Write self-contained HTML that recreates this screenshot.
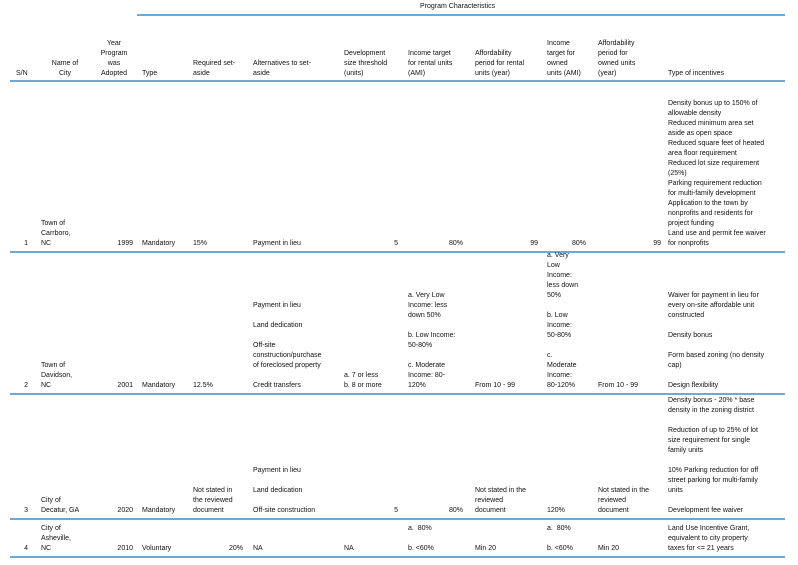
<!DOCTYPE html>
<html><head><meta charset="utf-8"><style>
body{margin:0;width:798px;height:565px;background:#fff;position:relative;overflow:hidden;font-family:"Liberation Sans",sans-serif;color:#111}
.c{position:absolute;font-size:7px;line-height:10px;white-space:nowrap}
.r{text-align:right}
.l{position:absolute;height:2px;background:#6fa8d8}
</style></head><body>
<div class="l" style="left:137px;top:14px;width:648px"></div>
<div class="c" style="left:420px;top:2px">Program Characteristics</div>

<div class="l" style="left:10px;top:80px;width:775px"></div>
<div class="l" style="left:10px;top:251px;width:775px"></div>
<div class="l" style="left:10px;top:393px;width:775px"></div>
<div class="l" style="left:10px;top:518px;width:775px"></div>
<div class="l" style="left:10px;top:556px;width:775px"></div>

<div class="c" style="left:16px;bottom:486px">S/N</div>
<div class="c" style="left:45px;width:40px;text-align:center;bottom:486px">Name of<br>City</div>
<div class="c" style="left:94px;width:40px;text-align:center;bottom:486px">Year<br>Program<br>was<br>Adopted</div>
<div class="c" style="left:142px;bottom:486px">Type</div>
<div class="c" style="left:193px;bottom:486px">Required set-<br>aside</div>
<div class="c" style="left:253px;bottom:486px">Alternatives to set-<br>aside</div>
<div class="c" style="left:344px;bottom:486px">Development<br>size threshold<br>(units)</div>
<div class="c" style="left:408px;bottom:486px">Income target<br>for rental units<br>(AMI)</div>
<div class="c" style="left:475px;bottom:486px">Affordability<br>period for rental<br>units (year)</div>
<div class="c" style="left:547px;bottom:486px">Income<br>target for<br>owned<br>units (AMI)</div>
<div class="c" style="left:598px;bottom:486px">Affordability<br>period for<br>owned units<br>(year)</div>
<div class="c" style="left:668px;bottom:486px">Type of incentives</div>

<div class="c r" style="right:770px;bottom:316px">1</div>
<div class="c" style="left:41px;bottom:316px">Town of<br>Carrboro,<br>NC</div>
<div class="c r" style="right:665px;bottom:316px">1999</div>
<div class="c" style="left:142px;bottom:316px">Mandatory</div>
<div class="c" style="left:193px;bottom:316px">15%</div>
<div class="c" style="left:253px;bottom:316px">Payment in lieu</div>
<div class="c r" style="right:400px;bottom:316px">5</div>
<div class="c r" style="right:335px;bottom:316px">80%</div>
<div class="c r" style="right:260px;bottom:316px">99</div>
<div class="c r" style="right:212px;bottom:316px">80%</div>
<div class="c r" style="right:137px;bottom:316px">99</div>
<div class="c" style="left:668px;bottom:316px">Density bonus up to 150% of<br>allowable density<br>Reduced minimum area set<br>aside as open space<br>Reduced square feet of heated<br>area floor requirement<br>Reduced lot size requirement<br>(25%)<br>Parking requirement reduction<br>for multi-family development<br>Application to the town by<br>nonprofits and residents for<br>project funding<br>Land use and permit fee waiver<br>for nonprofits</div>

<div class="c r" style="right:770px;bottom:174px">2</div>
<div class="c" style="left:41px;bottom:174px">Town of<br>Davidson,<br>NC</div>
<div class="c r" style="right:665px;bottom:174px">2001</div>
<div class="c" style="left:142px;bottom:174px">Mandatory</div>
<div class="c" style="left:193px;bottom:174px">12.5%</div>
<div class="c" style="left:253px;bottom:174px">Payment in lieu<br><br>Land dedication<br><br>Off-site<br>construction/purchase<br>of foreclosed property<br><br>Credit transfers</div>
<div class="c" style="left:344px;bottom:174px">a. 7 or less<br>b. 8 or more</div>
<div class="c" style="left:408px;bottom:174px">a. Very Low<br>Income: less<br>down 50%<br><br>b. Low Income:<br>50-80%<br><br>c. Moderate<br>Income: 80-<br>120%</div>
<div class="c" style="left:475px;bottom:174px">From 10 - 99</div>
<div class="c" style="left:547px;bottom:174px">a. Very<br>Low<br>Income:<br>less down<br>50%<br><br>b. Low<br>Income:<br>50-80%<br><br>c.<br>Moderate<br>Income:<br>80-120%</div>
<div class="c" style="left:598px;bottom:174px">From 10 - 99</div>
<div class="c" style="left:668px;bottom:174px">Waiver for payment in lieu for<br>every on-site affordable unit<br>constructed<br><br>Density bonus<br><br>Form based zoning (no density<br>cap)<br><br>Design flexibility</div>

<div class="c r" style="right:770px;bottom:49px">3</div>
<div class="c" style="left:41px;bottom:49px">City of<br>Decatur, GA</div>
<div class="c r" style="right:665px;bottom:49px">2020</div>
<div class="c" style="left:142px;bottom:49px">Mandatory</div>
<div class="c" style="left:193px;bottom:49px">Not stated in<br>the reviewed<br>document</div>
<div class="c" style="left:253px;bottom:49px">Payment in lieu<br><br>Land dedication<br><br>Off-site construction</div>
<div class="c r" style="right:400px;bottom:49px">5</div>
<div class="c r" style="right:335px;bottom:49px">80%</div>
<div class="c" style="left:475px;bottom:49px">Not stated in the<br>reviewed<br>document</div>
<div class="c" style="left:547px;bottom:49px">120%</div>
<div class="c" style="left:598px;bottom:49px">Not stated in the<br>reviewed<br>document</div>
<div class="c" style="left:668px;bottom:49px">Density bonus - 20% * base<br>density in the zoning district<br><br>Reduction of up to 25% of lot<br>size requirement for single<br>family units<br><br>10% Parking reduction for off<br>street parking for multi-family<br>units<br><br>Development fee waiver</div>

<div class="c r" style="right:770px;bottom:11px">4</div>
<div class="c" style="left:41px;bottom:11px">City of<br>Asheville,<br>NC</div>
<div class="c r" style="right:665px;bottom:11px">2010</div>
<div class="c" style="left:142px;bottom:11px">Voluntary</div>
<div class="c r" style="right:555px;bottom:11px">20%</div>
<div class="c" style="left:253px;bottom:11px">NA</div>
<div class="c" style="left:344px;bottom:11px">NA</div>
<div class="c" style="left:408px;bottom:11px">a.&nbsp; 80%<br><br>b. &lt;60%</div>
<div class="c" style="left:475px;bottom:11px">Min 20</div>
<div class="c" style="left:547px;bottom:11px">a.&nbsp; 80%<br><br>b. &lt;60%</div>
<div class="c" style="left:598px;bottom:11px">Min 20</div>
<div class="c" style="left:668px;bottom:11px">Land Use Incentive Grant,<br>equivalent to city property<br>taxes for &lt;= 21 years</div>
</body></html>
